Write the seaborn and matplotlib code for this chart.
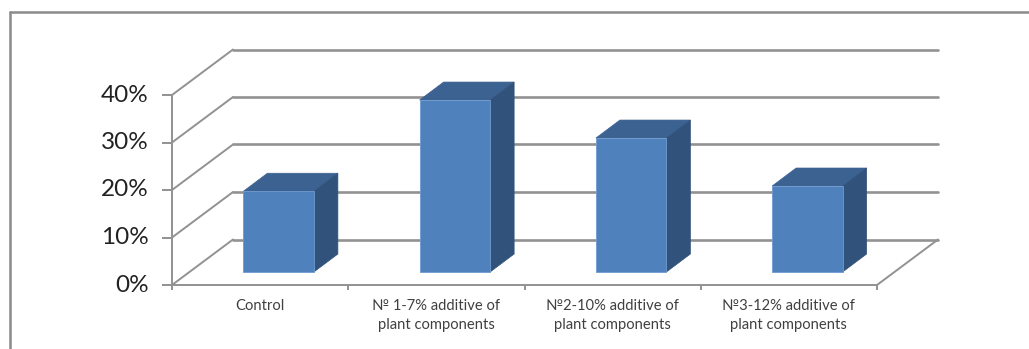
import matplotlib
matplotlib.use("Agg")
import matplotlib.pyplot as plt
import pandas as pd
import seaborn as sns
from matplotlib.lines import Line2D
from matplotlib.patches import Polygon
from matplotlib.ticker import PercentFormatter
from matplotlib.transforms import Affine2D, IdentityTransform

categories = [
    "Control",
    "№ 1-7% additive of\nplant components",
    "№2-10% additive of\nplant components",
    "№3-12% additive of\nplant components",
]
values = [17.0, 36.2, 28.2, 18.1]
y_ticks = [0, 10, 20, 30, 40]

GRID = "#929292"
FRONT = "#4f81bd"
TOP = "#3c6291"
SIDE = "#31527a"
EDGE = "#6f9bd0"

sns.set_theme(style="white")
plt.rcParams["font.family"] = ["Lato", "DejaVu Sans"]

W, H = 1029, 349
fig = plt.figure(figsize=(W / 100, H / 100), dpi=100, facecolor="white")
ax = fig.add_axes([172 / W, (H - 285) / H, 705 / W, 190 / H])
ax.patch.set_alpha(0)
ax.set_zorder(2)

df = pd.DataFrame({"category": categories, "value": values})
sns.barplot(data=df, x="category", y="value", color=FRONT, saturation=1,
            width=0.4, ax=ax, zorder=3, linewidth=0.6, edgecolor=EDGE)
ax.set_xlim(-0.5, 3.5)
ax.set_ylim(0, 40)

# Oblique projection: pixel shifts for the wall depth and the bar position/depth
wall = ax.transData + Affine2D().translate(61, 45.5)
bar_shift = ax.transData + Affine2D().translate(18.5, 13)
BAR_DX, BAR_DY = 24, 18
bar_back = ax.transData + Affine2D().translate(18.5 + BAR_DX, 13 + BAR_DY)

# Gridlines run from the front axis over the side wall, then along the back wall
x0, x1 = ax.get_xlim()
for v in y_ticks:
    fx, fy = ax.transData.transform((x0, v))
    bx, by = wall.transform((x0, v))
    ex, ey = wall.transform((x1, v))
    fig.add_artist(Line2D([fx / W, bx / W], [fy / H, by / H], color=GRID, lw=1.4, zorder=0.5))
    fig.add_artist(Line2D([bx / W, ex / W], [by / H, ey / H], color=GRID, lw=1.9, zorder=0.5))

# Right edge of the floor
fx, fy = ax.transData.transform((x1, 0))
bx, by = wall.transform((x1, 0))
fig.add_artist(Line2D([fx / W, bx / W], [fy / H, by / H], color=GRID, lw=1.4, zorder=0.5))

# Each bar gets a shifted front face plus top and side faces
pixel = IdentityTransform()
for bar in list(ax.patches):
    left, right = bar.get_x(), bar.get_x() + bar.get_width()
    top = bar.get_height()
    bar.set_transform(bar_shift)
    bar.set_clip_on(False)
    f_tl = bar_shift.transform((left, top))
    f_tr = bar_shift.transform((right, top))
    f_br = bar_shift.transform((right, 0))
    b_tl = bar_back.transform((left, top))
    b_tr = bar_back.transform((right, top))
    b_br = bar_back.transform((right, 0))
    ax.add_patch(Polygon([f_tl, f_tr, b_tr, b_tl], closed=True, transform=pixel,
                         facecolor=TOP, edgecolor=TOP, lw=0.5, zorder=2.5, clip_on=False))
    ax.add_patch(Polygon([f_tr, b_tr, b_br, f_br], closed=True, transform=pixel,
                         facecolor=SIDE, edgecolor=SIDE, lw=0.5, zorder=2.5, clip_on=False))

# Axes, ticks and labels
for name in ("top", "right"):
    ax.spines[name].set_visible(False)
for name in ("left", "bottom"):
    ax.spines[name].set_color(GRID)
    ax.spines[name].set_linewidth(1.4)

ax.set_xlabel("")
ax.set_ylabel("")
ax.set_yticks(y_ticks)
ax.yaxis.set_major_formatter(PercentFormatter(decimals=0))
ax.tick_params(axis="y", left=True, length=7, width=1.4, color=GRID,
               labelsize=17.5, labelcolor="#222222", pad=9)
ax.set_xticks(range(len(categories)))
ax.set_xticklabels(categories, linespacing=1.5)
ax.set_xticks([-0.5, 0.5, 1.5, 2.5, 3.5], minor=True)
ax.tick_params(axis="x", which="major", length=0, labelsize=10.6,
               labelcolor="#404040", pad=10)
ax.tick_params(axis="x", which="minor", bottom=True, length=3.5, width=1.4, color=GRID)

# Centre the percent labels on their ticks, a touch further from the axis
for tick in ax.yaxis.get_major_ticks():
    tick.label1.set_verticalalignment("center")
    tick.label1.set_transform(tick.label1.get_transform() + Affine2D().translate(-1, 0))

# Outer chart frame, cut off at the right and bottom edges
frame = dict(color="#8a8a8a", lw=1.8)
fig.add_artist(Line2D([10 / W, 1], [1 - 12 / H, 1 - 12 / H], **frame))
fig.add_artist(Line2D([10 / W, 10 / W], [1 - 12 / H, 0], **frame))

fig.savefig("out.png", dpi=100)
